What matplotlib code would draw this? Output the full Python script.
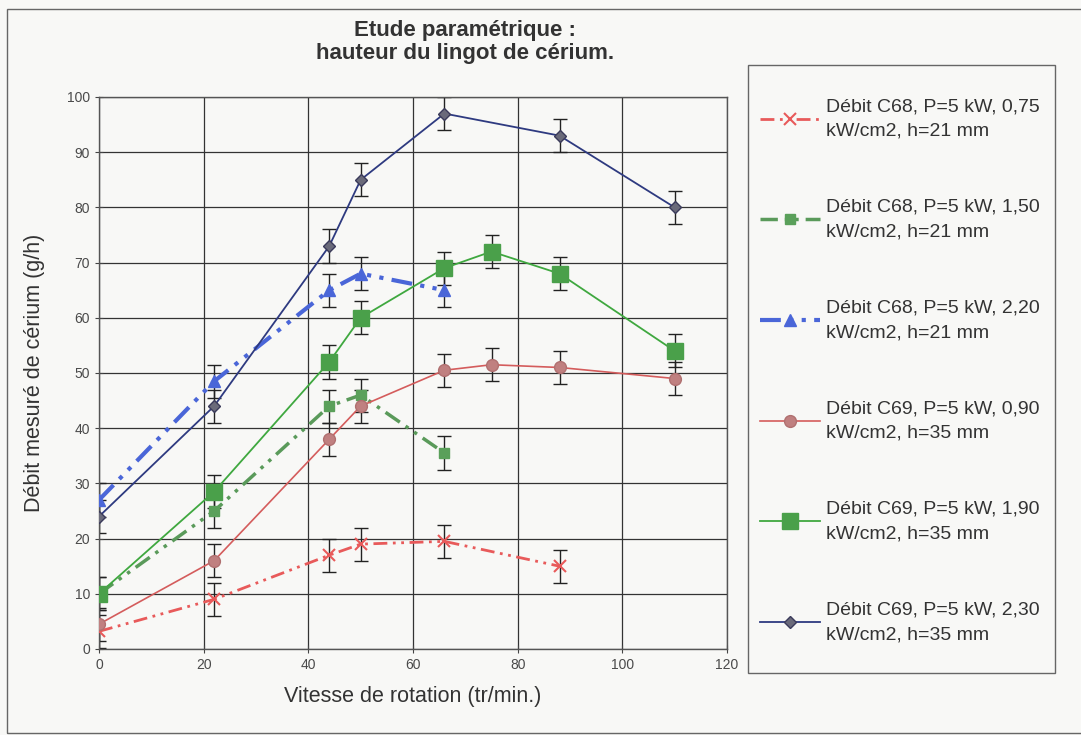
import matplotlib
matplotlib.use("Agg")
import matplotlib.pyplot as plt
from matplotlib.patches import Rectangle

plt.rcParams['font.family'] = ['Liberation Sans', 'DejaVu Sans']

# Data
x_c68_075 = [0, 22, 44, 50, 66, 88]
y_c68_075 = [3.2, 9, 17, 19, 19.5, 15]

x_c68_150 = [0, 22, 44, 50, 66]
y_c68_150 = [10, 25, 44, 46, 35.5]

x_c68_220 = [0, 22, 44, 50, 66]
y_c68_220 = [27, 48.5, 65, 68, 65]

x_c69_090 = [0, 22, 44, 50, 66, 75, 88, 110]
y_c69_090 = [4.5, 16, 38, 44, 50.5, 51.5, 51, 49]

x_c69_190 = [0, 22, 44, 50, 66, 75, 88, 110]
y_c69_190 = [10, 28.5, 52, 60, 69, 72, 68, 54]

x_c69_230 = [0, 22, 44, 50, 66, 88, 110]
y_c69_230 = [24, 44, 73, 85, 97, 93, 80]

err = 3

labels = [
    "Débit C68, P=5 kW, 0,75\nkW/cm2, h=21 mm",
    "Débit C68, P=5 kW, 1,50\nkW/cm2, h=21 mm",
    "Débit C68, P=5 kW, 2,20\nkW/cm2, h=21 mm",
    "Débit C69, P=5 kW, 0,90\nkW/cm2, h=35 mm",
    "Débit C69, P=5 kW, 1,90\nkW/cm2, h=35 mm",
    "Débit C69, P=5 kW, 2,30\nkW/cm2, h=35 mm",
]

W, H = 1081, 735
bg = '#f8f8f6'
fig = plt.figure(figsize=(W/100, H/100), dpi=100, facecolor=bg)
ax = fig.add_axes([99/W, 1-649/H, (727-99)/W, (649-97)/H])
ax.set_facecolor(bg)

ddot = (0, (5, 2, 1, 2, 1, 2))

series = [
    (x_c68_075, y_c68_075, dict(color='#e85a5a', ls=ddot, lw=2.0, marker='x', ms=8, mew=1.5,
                                 mec='#e85a5a')),
    (x_c68_150, y_c68_150, dict(color='#5a9a5a', ls=ddot, lw=2.5, marker='s', ms=7,
                                 mfc='#5aa05a', mec='#5aa05a')),
    (x_c68_220, y_c68_220, dict(color='#4a66d8', ls=ddot, lw=3.0, marker='^', ms=9,
                                 mfc='#4a66d8', mec='#4a66d8')),
    (x_c69_090, y_c69_090, dict(color='#d45c5c', ls='-', lw=1.2, marker='o', ms=8.5,
                                 mfc='#c08080', mec='#b07070')),
    (x_c69_190, y_c69_190, dict(color='#3fa83f', ls='-', lw=1.3, marker='s', ms=11,
                                 mfc='#4aa04a', mec='#4aa04a')),
    (x_c69_230, y_c69_230, dict(color='#2e3a80', ls='-', lw=1.3, marker='D', ms=6,
                                 mfc='#6a6a7a', mec='#3a3a5a')),
]

handles = []
for (xs, ys, st), lab in zip(series, labels):
    ax.errorbar(xs, ys, yerr=err, fmt='none', ecolor='#222222', elinewidth=1.0,
                capsize=5, capthick=1.0, zorder=2)
    h, = ax.plot(xs, ys, label=lab, zorder=3, **st)
    handles.append(h)

ax.set_xlim(0, 120)
ax.set_ylim(0, 100)
ax.set_xticks(range(0, 121, 20))
ax.set_yticks(range(0, 101, 10))
ax.grid(True, color='#333333', lw=0.9)
ax.set_axisbelow(True)
for sp in ax.spines.values():
    sp.set_color('#555555')
    sp.set_linewidth(1.0)
ax.tick_params(axis='both', direction='inout', length=6, color='#444444',
               labelsize=10, labelcolor='#4a4a4a')
ax.set_xlabel("Vitesse de rotation (tr/min.)", fontsize=15.5, color='#333333', labelpad=10)
ax.set_ylabel("Débit mesuré de cérium (g/h)", fontsize=15.5, color='#333333', labelpad=16)

fig.text(465/W, 1-42/H, "Etude paramétrique :\nhauteur du lingot de cérium.",
         ha='center', va='center', fontsize=16, fontweight='bold', color='#333333',
         linespacing=1.15)

# legend frame
fig.patches.append(Rectangle((748/W, 1-673/H), (1055-748)/W, (673-65)/H,
                             transform=fig.transFigure, fill=True, facecolor=bg,
                             edgecolor='#666666', lw=1.0, figure=fig, zorder=0))

leg = fig.legend(handles=handles, loc='upper left',
                 bbox_to_anchor=(760/W, 1-98/H), bbox_transform=fig.transFigure,
                 fontsize=14, frameon=False, labelspacing=3.03, borderpad=0,
                 handlelength=3.1, handletextpad=0.3, borderaxespad=0)
for t in leg.get_texts():
    t.set_color('#333333')
    t.set_linespacing(1.6)

# outer chart frame
fig.patches.append(Rectangle((7/W, 1-733/H), 1.02, (733-9)/H, transform=fig.transFigure,
                             fill=False, edgecolor='#666666', lw=1.0, figure=fig))

fig.savefig("out.png", dpi=100, facecolor=bg)
